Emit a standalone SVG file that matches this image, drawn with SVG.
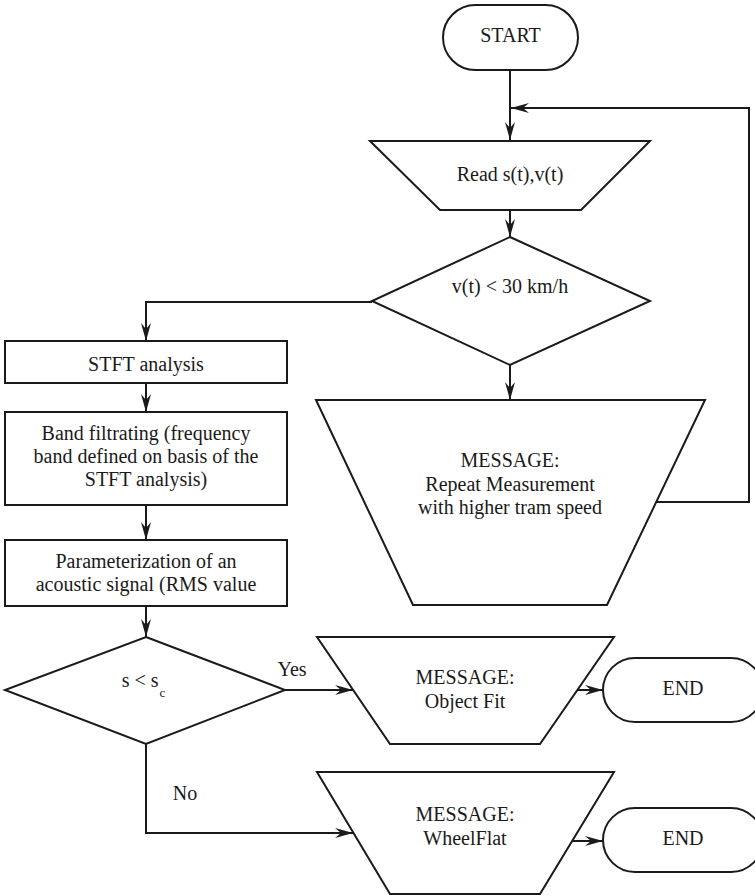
<svg xmlns="http://www.w3.org/2000/svg" width="755" height="896" viewBox="0 0 755 896">
<style>
.s{fill:#fff;stroke:#1a1a1a;stroke-width:2;stroke-linejoin:miter}
.c{fill:none;stroke:#1a1a1a;stroke-width:2}
text{font-family:"Liberation Serif","Times New Roman",serif;font-size:20px;fill:#1a1a1a;text-anchor:middle}
</style>
<defs>
<marker id="ah" markerUnits="userSpaceOnUse" viewBox="-20 -6 21 12" refX="0" refY="0" markerWidth="21" markerHeight="12" orient="auto">
<path d="M0,0 L-18,-5 L-12,0 L-18,5 Z" fill="#1a1a1a"/>
</marker>
</defs>
<rect width="755" height="896" fill="#fff"/>
<g id="connectors">
<path class="c" d="M510,70 V140" marker-end="url(#ah)"/>
<path class="c" d="M657,502 H749 V108 H511" marker-end="url(#ah)"/>
<path class="c" d="M510,210 V237" marker-end="url(#ah)"/>
<path class="c" d="M510,365 V400" marker-end="url(#ah)"/>
<path class="c" d="M372,302 H146 V341" marker-end="url(#ah)"/>
<path class="c" d="M146,383 V412" marker-end="url(#ah)"/>
<path class="c" d="M146,505 V540" marker-end="url(#ah)"/>
<path class="c" d="M146,606 V637" marker-end="url(#ah)"/>
<path class="c" d="M285,690 H353" marker-end="url(#ah)"/>
<path class="c" d="M146,744 V833 H353" marker-end="url(#ah)"/>
<path class="c" d="M577,690 H603" marker-end="url(#ah)"/>
<path class="c" d="M572,841 H603" marker-end="url(#ah)"/>
<text x="292" y="676">Yes</text>
<text x="185" y="800">No</text>
</g>
<g id="start">
<rect class="s" x="443" y="5" width="135" height="65" rx="32.5"/>
<text x="510.5" y="42">START</text>
</g>
<g id="read">
<polygon class="s" points="370,141 650,141 581,210 440,210"/>
<text x="510" y="181">Read s(t),v(t)</text>
</g>
<g id="dec1">
<polygon class="s" points="510,237 650,301 510,365 372,301"/>
<text x="510" y="293">v(t) &lt; 30 km/h</text>
</g>
<g id="repeat">
<polygon class="s" points="316,400 705,400 607,605 413,605"/>
<text x="510" y="467">MESSAGE:</text>
<text x="510" y="491">Repeat Measurement</text>
<text x="510" y="514">with higher tram speed</text>
</g>
<g id="stft">
<rect class="s" x="5" y="341" width="282" height="42"/>
<text x="146" y="371">STFT analysis</text>
</g>
<g id="band">
<rect class="s" x="5" y="412" width="282" height="93"/>
<text x="146" y="440">Band filtrating (frequency</text>
<text x="146" y="463">band defined on basis of the</text>
<text x="146" y="486">STFT analysis)</text>
</g>
<g id="param">
<rect class="s" x="5" y="540" width="282" height="66"/>
<text x="146" y="568">Parameterization of an</text>
<text x="146" y="591">acoustic signal (RMS value</text>
</g>
<g id="dec2">
<polygon class="s" points="146,637 285,690 146,744 5,690"/>
<text x="143.5" y="687">s &lt; s<tspan dx="1" dy="10" font-size="13">c</tspan></text>
</g>
<g id="objfit">
<polygon class="s" points="317,637 614,637 540,744 390,744"/>
<text x="465" y="684">MESSAGE:</text>
<text x="465" y="708">Object Fit</text>
</g>
<g id="end1">
<rect class="s" x="603" y="658" width="160" height="64" rx="32"/>
<text x="683" y="695">END</text>
</g>
<g id="wheelflat">
<polygon class="s" points="317,772 614,772 540,894 390,894"/>
<text x="465" y="821">MESSAGE:</text>
<text x="465" y="845">WheelFlat</text>
</g>
<g id="end2">
<rect class="s" x="603" y="808" width="160" height="64" rx="32"/>
<text x="683" y="845">END</text>
</g>
</svg>
